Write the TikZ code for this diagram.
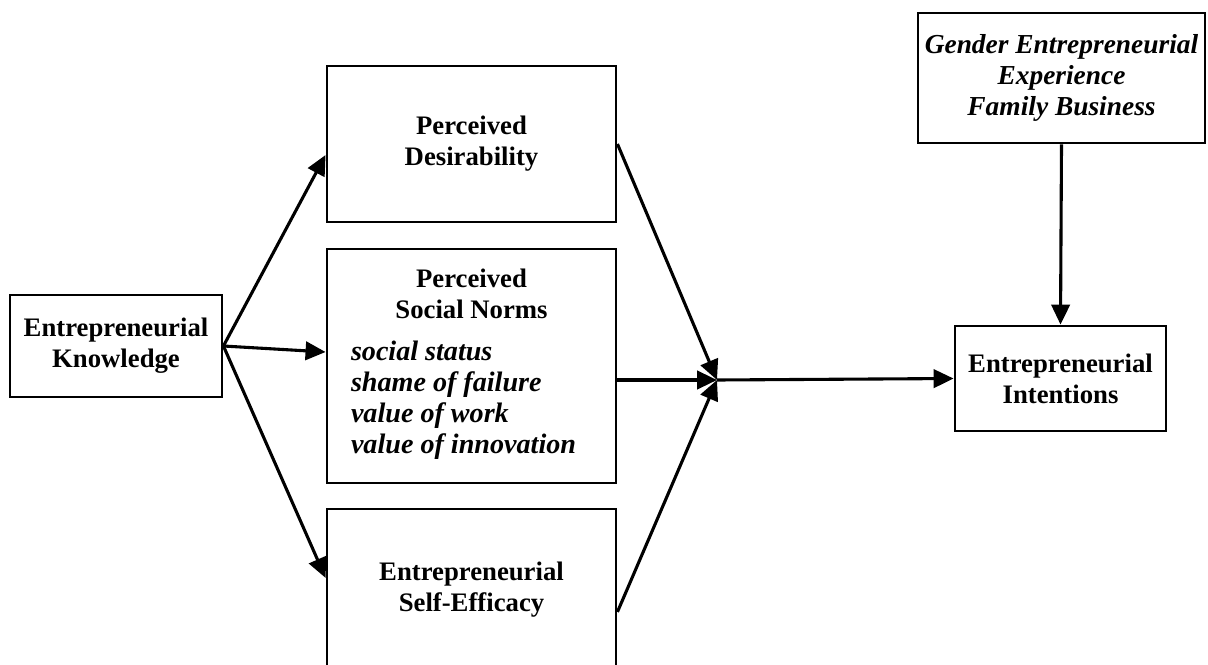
\documentclass[tikz,border=0pt]{standalone}
\usepackage{fontspec}
\setmainfont{Liberation Serif}
\usetikzlibrary{positioning}
\usetikzlibrary{arrows.meta}
\tikzset{factor/.style={rectangle,draw=black,line width=2pt,fill=white,align=center,inner sep=2pt,font=\fontsize{19}{22}\selectfont\bfseries}}
\tikzset{link/.style={draw=black,->,line width=2.2pt}}
\tikzset{links/.style={every edge/.style=link}}

\begin{document}
\begin{tikzpicture}[x=0.025cm,y=-0.025cm,>={Triangle[length=5mm,width=4.6mm]}]
  \path [use as bounding box,clip] (0,0) rectangle (1208,664);

  \node [factor,minimum width=5.3cm,minimum height=2.55cm] (K) at (116,346)
  {Entrepreneurial\\Knowledge};
  \node [factor,minimum width=7.225cm,minimum height=3.9cm] (D) at (471.5,144)
  {Perceived\\Desirability};
  \node [factor,minimum width=7.225cm,minimum height=5.85cm] (N) at (471.5,366)
  {
    Perceived\\Social Norms\\[8pt]
    {\fontsize{20}{22}\selectfont
    \begin{tabular}[t]{@{}l@{}}
      \itshape social status\\
      \itshape shame of failure\\
      \itshape value of work\\
      \itshape value of innovation
    \end{tabular}}\hspace{4mm}
  };
  \node [factor,minimum width=7.225cm,minimum height=4.025cm] (S) at (471.5,589.5)
  {Entrepreneurial\\Self-Efficacy};
  \node [factor,minimum width=7.175cm,minimum height=3.25cm,font=\fontsize{19.5}{22}\selectfont\bfseries\itshape] (G) at (1061.5,78)
  {Gender Entrepreneurial\\Experience\\Family Business};
  \node [factor,minimum width=5.275cm,minimum height=2.625cm] (I) at (1060.5,378.5)
  {Entrepreneurial\\Intentions};
  \coordinate (M) at (717,380);

  \path [links] (K.east) edge ([yshift=-2.75mm]D.west)
                         edge ([yshift=3.5mm]N.west)
                         edge ([yshift=2.9mm]S.west);
  \path [links] (D.east) edge (M)
                (N.east |- M) edge (M)
                ([yshift=-5.6mm]S.east) edge (M)
                (M) edge (I.west)
                (G.south) edge (I.north);
\end{tikzpicture}
\end{document}
